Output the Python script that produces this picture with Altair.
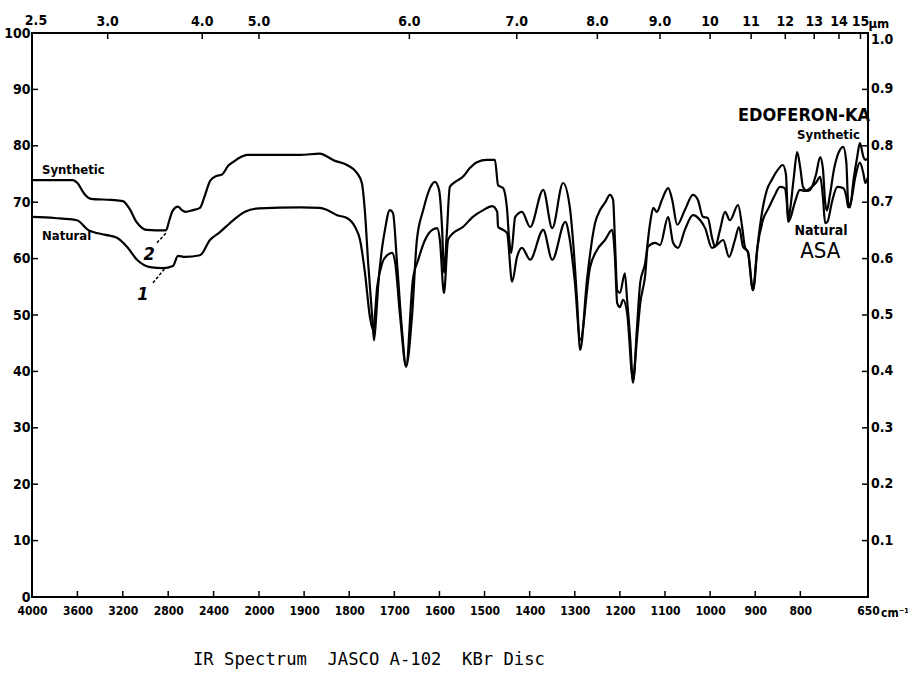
import altair as alt
import pandas as pd

# ---------------- data ----------------
# (wavenumber cm-1, transmittance %)
synthetic_pts = [
    (4000, 73.9), (3640, 73.9), (3600, 73.4), (3540, 71.5), (3480, 70.6), (3300, 70.4),
    (3200, 70.2), (3140, 68.8), (3080, 66.5), (3020, 65.3), (2990, 65.1), (2820, 65.0),
    (2790, 66.8), (2760, 68.5), (2714, 69.2), (2680, 68.6), (2650, 68.3), (2580, 68.6),
    (2520, 69.0), (2480, 71.0), (2430, 73.8), (2380, 74.6), (2326, 74.9), (2270, 76.5),
    (2229, 77.1), (2160, 78.0), (2106, 78.4), (2000, 78.4), (1909, 78.4), (1865, 78.6),
    (1849, 78.1), (1836, 77.5), (1805, 76.6), (1783, 75.2), (1772, 73.4), (1765, 68.1),
    (1758, 59.2), (1749, 49.6), (1745, 45.5), (1740, 50.0), (1736, 55.0), (1727, 62.0),
    (1721, 65.0), (1710, 68.6), (1703, 68.1), (1694, 59.2), (1683, 47.3), (1674, 40.8),
    (1661, 49.6), (1650, 63.3), (1636, 68.6), (1621, 72.5), (1610, 73.6), (1601, 72.2),
    (1594, 65.1), (1590, 57.5), (1584, 64.0), (1577, 72.7), (1565, 73.6), (1548, 74.5),
    (1532, 76.1), (1517, 77.1), (1495, 77.5), (1477, 77.5), (1470, 73.0), (1459, 72.5),
    (1450, 68.6), (1446, 64.0), (1441, 61.0), (1432, 67.4), (1417, 68.3), (1399, 65.6),
    (1370, 72.2), (1350, 65.4), (1326, 73.4), (1311, 69.1), (1304, 63.3), (1295, 52.7),
    (1288, 43.8), (1273, 56.2), (1255, 66.3), (1244, 68.6), (1233, 69.9), (1222, 71.3),
    (1215, 70.4), (1211, 63.3), (1206, 54.4), (1200, 53.9), (1189, 57.4), (1184, 52.7),
    (1177, 45.6), (1171, 38.0), (1162, 47.9), (1155, 55.7), (1144, 59.2), (1133, 66.3),
    (1126, 69.0), (1118, 68.3), (1107, 70.4), (1093, 72.5), (1084, 70.4), (1073, 66.0),
    (1056, 68.6), (1038, 71.3), (1027, 70.4), (1016, 67.4), (1005, 67.2), (996, 63.8),
    (989, 62.1), (978, 65.1), (967, 68.3), (956, 66.8), (938, 69.5), (929, 65.6),
    (923, 62.1), (916, 61.0), (905, 54.4), (894, 62.8), (883, 69.1), (874, 72.2),
    (863, 74.0), (852, 75.5), (839, 76.6), (832, 75.0), (827, 67.0), (823, 68.5),
    (815, 74.0), (807, 78.9), (800, 76.0), (794, 72.7), (785, 72.0), (778, 72.2),
    (765, 75.0), (756, 78.0), (750, 76.0), (745, 70.0), (741, 68.5), (735, 71.0),
    (725, 76.0), (712, 79.3), (705, 79.8), (698, 77.0), (694, 70.0), (690, 69.1),
    (682, 74.0), (674, 78.0), (668, 80.5), (660, 78.0), (656, 77.5), (650, 77.8),
]

natural_pts = [
    (4000, 67.4), (3800, 67.2), (3604, 66.8), (3507, 65.1), (3350, 64.2), (3251, 63.7),
    (3163, 62.1), (3075, 59.8), (2960, 58.5), (2846, 58.3), (2758, 58.7), (2714, 60.5),
    (2652, 60.3), (2520, 60.6), (2432, 63.3), (2344, 64.7), (2256, 66.3), (2123, 68.3),
    (2000, 68.9), (1909, 69.1), (1865, 69.0), (1849, 68.6), (1827, 67.7), (1805, 67.2),
    (1787, 65.6), (1776, 63.3), (1765, 57.4), (1754, 49.6), (1747, 47.3), (1738, 55.0),
    (1727, 59.2), (1716, 60.6), (1705, 61.0), (1698, 59.2), (1687, 49.6), (1674, 41.0),
    (1659, 56.2), (1647, 59.8), (1632, 63.3), (1616, 65.1), (1605, 65.4), (1599, 63.3),
    (1590, 53.9), (1581, 63.3), (1570, 64.5), (1548, 65.6), (1526, 67.4), (1503, 68.6),
    (1483, 69.3), (1472, 68.3), (1470, 65.6), (1459, 65.1), (1450, 64.5), (1439, 55.9),
    (1428, 60.3), (1417, 61.9), (1399, 59.8), (1370, 65.1), (1350, 59.8), (1321, 66.5),
    (1311, 63.3), (1300, 56.0), (1288, 45.6), (1266, 58.5), (1251, 61.5), (1233, 63.3),
    (1217, 65.1), (1211, 60.3), (1206, 52.1), (1200, 51.4), (1193, 52.7), (1184, 50.4),
    (1171, 38.5), (1162, 46.0), (1155, 52.0), (1144, 57.0), (1138, 62.1), (1122, 62.8),
    (1111, 62.4), (1093, 67.4), (1082, 62.8), (1071, 61.9), (1056, 65.1), (1038, 67.7),
    (1022, 66.8), (1011, 65.4), (996, 61.9), (985, 62.4), (971, 63.3), (958, 60.3),
    (945, 63.3), (936, 65.6), (927, 62.1), (916, 61.2), (905, 54.4), (896, 61.5),
    (883, 66.8), (870, 69.0), (858, 71.0), (845, 72.7), (835, 72.5), (830, 70.0),
    (827, 66.5), (823, 67.0), (812, 70.0), (801, 72.2), (790, 72.0), (778, 72.5),
    (765, 73.5), (756, 74.5), (750, 71.0), (745, 66.3), (740, 66.5), (730, 70.0),
    (718, 72.7), (705, 72.5), (698, 71.0), (694, 69.1), (688, 70.0), (678, 74.5),
    (668, 77.0), (660, 75.0), (656, 73.4), (650, 74.5),
]

bottom_tick_wn = [4000, 3600, 3200, 2800, 2400, 2000, 1900, 1800, 1700, 1600,
                  1500, 1400, 1300, 1200, 1100, 1000, 900, 800, 650]
top_um_values = [3.0, 4.0, 5.0, 6.0, 7.0, 8.0, 9.0, 10, 11, 12, 13, 14, 15]
top_um_labels = ["3.0", "4.0", "5.0", "6.0", "7.0", "8.0", "9.0",
                 "10", "11", "12", "13", "14", "15"]
first_um_value, first_um_label = 2.5, "2.5"
left_tick_vals = [0, 10, 20, 30, 40, 50, 60, 70, 80, 90, 100]
right_tick_vals = [10, 20, 30, 40, 50, 60, 70, 80, 90]
right_tick_labels = ["0.1", "0.2", "0.3", "0.4", "0.5", "0.6", "0.7", "0.8", "0.9"]
right_top_label = "1.0"

left_notes = ["Synthetic", "Natural"]
left_notes_wn = [3912, 3912]
left_notes_t = [75.0, 63.3]

num_notes = ["2", "1"]
num_notes_wn = [2969, 3022]
num_notes_t = [59.8, 52.7]

leader_wn = [2899, 2934]
leader_wn2 = [2811, 2828]
leader_t = [62.8, 55.7]
leader_t2 = [64.7, 58.3]

sample_name = "EDOFERON-KA"
sample_name_wn, sample_name_t = 650, 84.4
right_syn_wn, right_syn_t = 668, 81.2
right_nat_wn, right_nat_t = 754, 64.2
asa_wn, asa_t = 756, 60.1

title_text = "IR Spectrum\u00a0\u00a0JASCO A-102\u00a0\u00a0KBr Disc"

# ---------------- chart ----------------
W, H = 836, 564
FONT = "Liberation Sans Narrow, DejaVu Sans Condensed, Arial Narrow, DejaVu Sans, sans-serif"

x_scale = alt.Scale(domain=[4000, 2000, 650], range=[0, 227, W], nice=False, zero=False)
y_scale = alt.Scale(domain=[0, 100], nice=False, zero=False)


def X(field="wn"):
    return alt.X(f"{field}:Q", scale=x_scale, title=None)


def Y(field="T"):
    return alt.Y(f"{field}:Q", scale=y_scale, title=None)


rows = []
for name, pts in (("Synthetic", synthetic_pts), ("Natural", natural_pts)):
    for i, (w, t) in enumerate(pts):
        rows.append({"series": name, "idx": i, "wn": w, "T": t})
curves = pd.DataFrame(rows)

x_axis = alt.Axis(values=bottom_tick_wn, format="d", title=None, grid=False, ticks=False,
                  domain=False, labelPadding=8, labelFontSize=12, labelFont=FONT,
                  labelFontWeight="bold", labelColor="black", labelFlush=False,
                  labelOverlap=False)
y_axis = alt.Axis(values=left_tick_vals, format="d", title=None, grid=False, ticks=False,
                  domain=False, labelPadding=2, labelFontSize=14, labelFont=FONT,
                  labelFontWeight="bold", labelColor="black", labelFlush=False,
                  labelOverlap=False)

lines = alt.Chart(curves).mark_line(color="black", strokeWidth=2.2, interpolate="monotone").encode(
    x=alt.X("wn:Q", scale=x_scale, axis=x_axis, title=None),
    y=alt.Y("T:Q", scale=y_scale, axis=y_axis, title=None),
    detail="series:N",
    order="idx:Q",
)

bt = pd.DataFrame({"wn": bottom_tick_wn})
bottom_ticks = alt.Chart(bt).mark_rule(color="black", strokeWidth=1.5).encode(
    x=X(), y=alt.value(H), y2=alt.value(H - 6))

top = pd.DataFrame({"um": top_um_values, "label": top_um_labels})
top["wn"] = 10000.0 / top["um"]
top_ticks = alt.Chart(top).mark_rule(color="black", strokeWidth=1.5).encode(
    x=X(), y=alt.value(0), y2=alt.value(6))
top_labels = alt.Chart(top).mark_text(font=FONT, fontSize=14, fontWeight="bold",
                                      color="black", baseline="alphabetic").encode(
    x=X(), y=alt.value(-7), text="label:N")
first_top = pd.DataFrame({"wn": [10000.0 / first_um_value], "label": [first_um_label]})
first_top_label = alt.Chart(first_top).mark_text(
    font=FONT, fontSize=14, fontWeight="bold", color="black", baseline="alphabetic",
    dx=4).encode(x=X(), y=alt.value(-8), text="label:N")
um_unit = alt.Chart(pd.DataFrame({"wn": [10000.0 / 15], "t": ["μm"]})).mark_text(
    font=FONT, fontSize=13, fontWeight="bold", color="black", align="left",
    baseline="alphabetic", dx=8).encode(
    x=X(), y=alt.value(-5), text="t:N")

lt = pd.DataFrame({"T": left_tick_vals})
left_ticks = alt.Chart(lt).mark_rule(color="black", strokeWidth=1.5).encode(
    y=Y(), x=alt.value(0), x2=alt.value(6))
right_ticks = alt.Chart(lt).mark_rule(color="black", strokeWidth=1.5).encode(
    y=Y(), x=alt.value(W), x2=alt.value(W - 6))

rt = pd.DataFrame({"T": right_tick_vals, "label": right_tick_labels})
right_labels = alt.Chart(rt).mark_text(font=FONT, fontSize=14, fontWeight="bold",
                                       color="black", align="left", baseline="middle",
                                       dx=3).encode(
    y=Y(), x=alt.value(W), text="label:N")
right_top = alt.Chart(pd.DataFrame({"T": [100], "label": [right_top_label]})).mark_text(
    font=FONT, fontSize=14, fontWeight="bold", color="black", align="left",
    baseline="middle", dx=3, dy=7).encode(
    y=Y(), x=alt.value(W), text="label:N")

cm_unit = alt.Chart(pd.DataFrame({"wn": [650], "t": ["cm⁻¹"]})).mark_text(
    font=FONT, fontSize=12, fontWeight="bold", color="black", align="left",
    baseline="alphabetic", dx=13).encode(
    x=X(), y=alt.value(H + 20), text="t:N")

ln = pd.DataFrame({"wn": left_notes_wn, "T": left_notes_t, "t": left_notes})
left_note_text = alt.Chart(ln).mark_text(font=FONT, fontSize=13, fontWeight="bold",
                                         color="black", align="left",
                                         baseline="alphabetic").encode(
    x=X(), y=Y(), text="t:N")

nn = pd.DataFrame({"wn": num_notes_wn, "T": num_notes_t, "t": num_notes})
num_text = alt.Chart(nn).mark_text(font=FONT, fontSize=18, fontStyle="italic",
                                   fontWeight="bold", color="black",
                                   baseline="alphabetic").encode(
    x=X(), y=Y(), text="t:N")

ld = pd.DataFrame({"wn": leader_wn, "wn2": leader_wn2, "T": leader_t, "T2": leader_t2})
leaders = alt.Chart(ld).mark_rule(color="black", strokeWidth=1.5, strokeDash=[3, 2]).encode(
    x=X(), x2="wn2:Q", y=Y(), y2="T2:Q")

rn_big = alt.Chart(pd.DataFrame({"wn": [sample_name_wn], "T": [sample_name_t],
                                 "t": [sample_name]})).mark_text(
    font=FONT, fontSize=18, fontWeight="bold", color="black", align="right",
    baseline="alphabetic", dx=2).encode(
    x=X(), y=Y(), text="t:N")
rn_syn = alt.Chart(pd.DataFrame({"wn": [right_syn_wn], "T": [right_syn_t],
                                 "t": ["Synthetic"]})).mark_text(
    font=FONT, fontSize=13, fontWeight="bold", color="black", align="right",
    baseline="alphabetic").encode(
    x=X(), y=Y(), text="t:N")
rn_nat = alt.Chart(pd.DataFrame({"wn": [right_nat_wn], "T": [right_nat_t],
                                 "t": ["Natural"]})).mark_text(
    font=FONT, fontSize=14, fontWeight="bold", color="black", align="center",
    baseline="alphabetic").encode(
    x=X(), y=Y(), text="t:N")
rn_asa = alt.Chart(pd.DataFrame({"wn": [asa_wn], "T": [asa_t],
                                 "t": ["ASA"]})).mark_text(
    font=FONT, fontSize=22, color="black", align="center", baseline="alphabetic").encode(
    x=X(), y=Y(), text="t:N")

chart = alt.layer(
    lines, bottom_ticks, top_ticks, top_labels, first_top_label, um_unit, left_ticks,
    right_ticks, right_labels, right_top, cm_unit, left_note_text, num_text, leaders,
    rn_big, rn_syn, rn_nat, rn_asa,
).properties(
    width=W, height=H,
    title=alt.TitleParams(title_text, orient="bottom", anchor="start", frame="group",
                          dx=161, offset=32,
                          font="DejaVu Sans Mono, Liberation Mono, monospace",
                          fontSize=17.2, fontWeight="normal", color="black"),
    autosize=alt.AutoSizeParams(type="none"),
    padding={"left": 32, "top": 33, "right": 40, "bottom": 79},
    background="white",
).configure_view(stroke="black", strokeWidth=2)

chart.save("out.html", embed_options={"renderer": "svg", "actions": False})
